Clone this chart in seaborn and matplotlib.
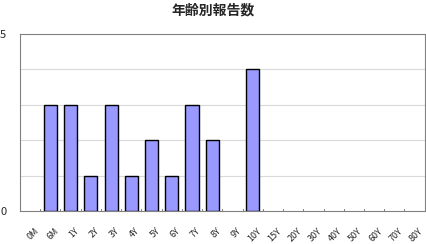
import matplotlib
matplotlib.use("Agg")
import matplotlib.pyplot as plt
import matplotlib.transforms as mtransforms
import seaborn as sns
import pandas as pd

categories = ["0M", "6M", "1Y", "2Y", "3Y", "4Y", "5Y", "6Y", "7Y", "8Y", "9Y", "10Y",
              "15Y", "20Y", "30Y", "40Y", "50Y", "60Y", "70Y", "80Y"]
counts = [0, 3, 3, 1, 3, 1, 2, 1, 3, 2, 0, 4, 0, 0, 0, 0, 0, 0, 0, 0]
title = "年齢別報告数"

sns.set_theme(style="white")
plt.rcParams["font.family"] = ["Noto Sans CJK JP", "DejaVu Sans"]

df = pd.DataFrame({"age": categories, "count": counts})

fig = plt.figure(figsize=(4.26, 2.44), dpi=100)
ax = fig.add_axes([0.047, 0.135, 0.950, 0.726])

sns.barplot(data=df, x="age", y="count", ax=ax, color="#9999FF",
            saturation=1, width=0.65, edgecolor="black", linewidth=1.0, zorder=3)
for p in ax.patches:
    if p.get_height() == 0:
        p.set_linewidth(0)

ax.set_ylim(0, 5)
ax.set_xlim(-0.5, len(categories) - 0.5)
ax.set_yticks([0, 5])
ax.set_yticklabels(["0", "5"], fontsize=8)
for y in [1, 2, 3, 4]:
    ax.axhline(y, color="#d9d9d9", linewidth=0.8, zorder=1)
ax.tick_params(axis="y", length=0, pad=10)

ax.set_xticks(range(len(categories)))
ax.set_xticklabels(categories, rotation=45, ha="right", rotation_mode="anchor", fontsize=6.5)
ax.tick_params(axis="x", length=0, pad=11)
offset = mtransforms.ScaledTranslation(4 / 100, 0, fig.dpi_scale_trans)
for lbl in ax.get_xticklabels():
    lbl.set_transform(lbl.get_transform() + offset)
# category boundary tick marks
for b in range(1, len(categories)):
    ax.plot([b - 0.5, b - 0.5], [0, 0.05], color="#808080", linewidth=0.8, zorder=2)

for s in ax.spines.values():
    s.set_color("#808080")
    s.set_linewidth(0.8)
    s.set_visible(True)

ax.set_xlabel("")
ax.set_ylabel("")
fig.text(0.5, 0.958, title, ha="center", va="center", fontsize=10, fontweight="bold")

fig.savefig("out.png", dpi=100)
